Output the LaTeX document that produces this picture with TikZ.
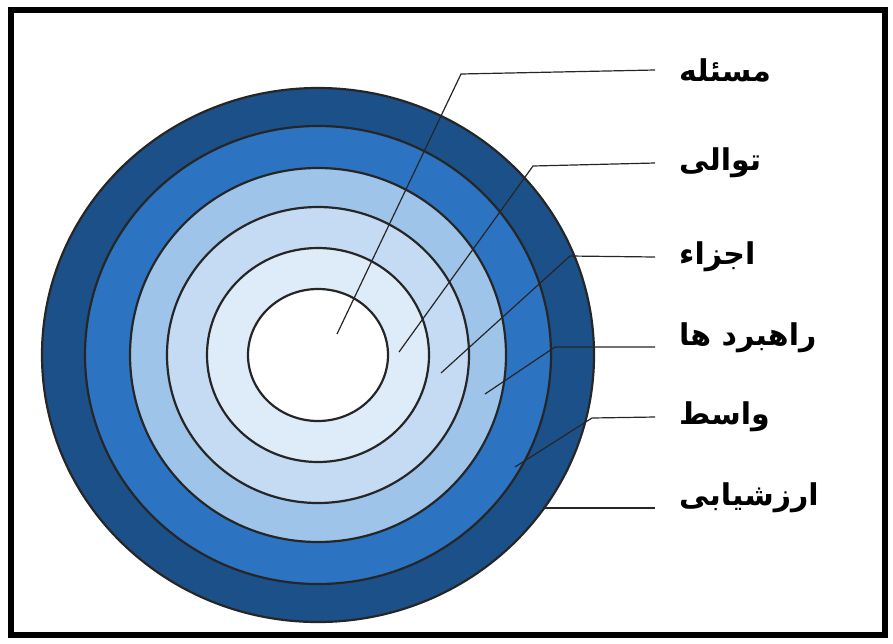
\documentclass[tikz,border=0pt]{standalone}
\usepackage{fontspec}
\usepackage{xcolor}
\usepackage{tikz}
\usetikzlibrary{positioning}
\newfontfamily\arabicfont[Script=Arabic]{DejaVu Sans}
\TeXXeTstate=1

\definecolor{ringA}{RGB}{28,80,136}
\definecolor{ringB}{RGB}{44,116,194}
\definecolor{ringC}{RGB}{158,196,233}
\definecolor{ringD}{RGB}{196,219,243}
\definecolor{ringE}{RGB}{222,235,248}

\begin{document}
\begin{tikzpicture}[x=1pt, y=-1pt,
        ring/.style={draw=black!85, line width=2.2pt},
        leader/.style={draw=black!85, line width=1.2pt},
        label/.style={anchor=west, inner xsep=24pt, inner ysep=0pt,
                      font=\arabicfont\bfseries\fontsize{30}{34}\selectfont}]
      \useasboundingbox (0,0) rectangle (893,643);
      \draw[line width=6pt] (11,10) rectangle (885,635);
      \coordinate (c) at (318,355);
      % rings, outside in
      \draw[ring, fill=ringA] (c) ellipse [x radius=276pt, y radius=267pt];
      \draw[ring, fill=ringB] (c) ellipse [x radius=233pt, y radius=229pt];
      \draw[ring, fill=ringC] (c) ellipse [x radius=188pt, y radius=187pt];
      \draw[ring, fill=ringD] (c) ellipse [x radius=151pt, y radius=148pt];
      \draw[ring, fill=ringE] (c) ellipse [x radius=111pt, y radius=107pt];
      \draw[ring, fill=white] (c) ellipse [x radius=70pt, y radius=66pt];
      % labels
      \node[label] (l1) at (655,70) {\beginR مسئله\endR};
      \node[label] (l2) at (655,163) {\beginR توالی\endR};
      \node[label] (l3) at (655,257) {\beginR اجزاء\endR};
      \node[label] (l4) at (655,338) {\beginR راهبرد ها\endR};
      \node[label] (l5) at (655,417) {\beginR واسط\endR};
      \node[label] (l6) at (655,498) {\beginR ارزشیابی\endR};
      % leader lines
      \coordinate (s1) at (337,334);
      \coordinate (k1) at (461,74);
      \coordinate (s2) at (399,352);
      \coordinate (k2) at (533,166);
      \coordinate (s3) at (441,373);
      \coordinate (k3) at (570,256);
      \coordinate (s4) at (485,394);
      \coordinate (k4) at (555,347);
      \coordinate (s5) at (515,467);
      \coordinate (k5) at (592,418);
      \coordinate (s6) at (545,508);
      \draw[leader] (s1) -- (k1) -- (l1.west);
      \draw[leader] (s2) -- (k2) -- (l2.west);
      \draw[leader] (s3) -- (k3) -- (l3.west);
      \draw[leader] (s4) -- (k4) -- (k4 -| l4.west);
      \draw[leader] (s5) -- (k5) -- (l5.west);
      \draw[leader] (s6) -- (s6 -| l6.west);
    \end{tikzpicture}
\end{document}
